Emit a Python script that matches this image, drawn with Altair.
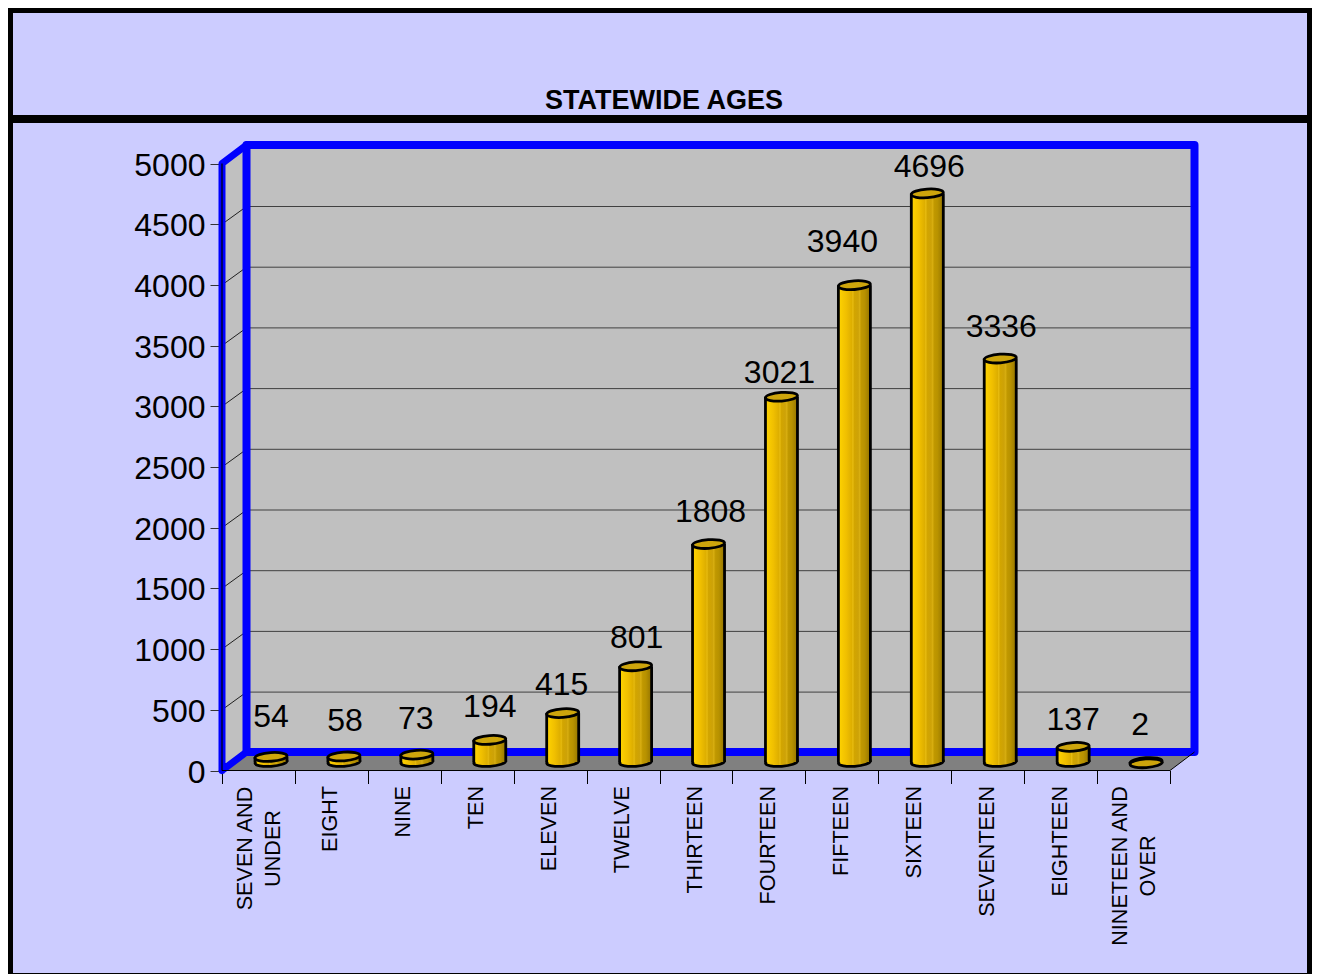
import altair as alt
import pandas as pd

categories = ["SEVEN AND\nUNDER", "EIGHT", "NINE", "TEN", "ELEVEN", "TWELVE", "THIRTEEN",
              "FOURTEEN", "FIFTEEN", "SIXTEEN", "SEVENTEEN", "EIGHTEEN", "NINETEEN AND\nOVER"]
counts = [54, 58, 73, 194, 415, 801, 1808, 3021, 3940, 4696, 3336, 137, 2]
label_shift_x = [0, 1, -1, 0, -1, 1, 2, -2, -12, 2, 1, 0, -6]
label_shift_y = [38, 34, 34, 31, 27, 27, 31, 22, 42, 25, 30, 25, 37]
grid_values = [500, 1000, 1500, 2000, 2500, 3000, 3500, 4000, 4500]
y_ticks = [0, 500, 1000, 1500, 2000, 2500, 3000, 3500, 4000, 4500, 5000]

W, H = 1304, 966
FONT = "Liberation Sans"
BG = "#CCCCFF"
BLUE = "#0000FF"
N = len(categories)
PX_X = 948 / N            # pixels per category
PX_Y = 607 / 5000         # pixels per unit
DX = 24.5 / PX_X          # depth of the 3-D box in data units
DY = 18.5 / PX_Y
GRID_DY = 17.7 / PX_Y
BASE = 8.5 / PX_Y         # cylinders stand in the middle of the floor
TOP_BASE = 7 / PX_Y
CX = 49 / PX_X
HALF = 16 / PX_X

xs = alt.Scale(domain=[0, N], range=[214, 1162], nice=False, zero=False)
ys = alt.Scale(domain=[0, 5000], range=[762.5, 155.5], nice=False, zero=False)
x_axis = alt.Axis(values=list(range(N + 1)), labels=False, domain=False, grid=False, title=None,
                  tickSize=13, tickColor="#000000", tickWidth=1, offset=-203.5)
y_axis = alt.Axis(values=y_ticks, domain=False, grid=False, title=None, tickSize=12, tickColor="#333333",
                  tickWidth=1, labelFont=FONT, labelFontSize=32, labelColor="black",
                  labelPadding=5, labelOffset=1.5, offset=-214, format="d")


def X(f, **k):
    return alt.X(f, type="quantitative", scale=xs, axis=x_axis, **k)


def Y(f, **k):
    return alt.Y(f, type="quantitative", scale=ys, axis=y_axis, **k)


one = pd.DataFrame({"k": [0]})

bars = pd.DataFrame({
    "cat": categories,
    "v": counts,
    "i": list(range(N)),
})
bars["c"] = bars.i + CX
bars["l"] = bars.c - HALF
bars["r"] = bars.c + HALF
bars["base"] = BASE
bars["top"] = bars.v + TOP_BASE
bars["lx"] = bars.c + pd.Series(label_shift_x) / PX_X
bars["ly"] = bars.v + BASE + pd.Series(label_shift_y) / PX_Y
bars["tx"] = bars.i + 0.48 + 1.5 / PX_X
bars["tx2"] = bars.i + 0.48 - 11 / PX_X

# frame of the picture
frame = []
for x0, x1, y0, y1 in [(0, W, 0, 5), (0, 5, 0, H), (1299, W, 0, H), (0, W, 107, 115), (0, W, 965, H)]:
    frame.append(alt.Chart(one).mark_rect(color="black", strokeWidth=0).encode(
        x=alt.value(x0), x2=alt.value(x1), y=alt.value(y0), y2=alt.value(y1)))

title = alt.Chart(one).mark_text(text="STATEWIDE AGES", font=FONT, fontWeight="bold", fontSize=27,
                                 color="black", align="center", baseline="middle").encode(
    x=alt.value(656), y=alt.value(93))

# walls and floor
back = alt.Chart(pd.DataFrame({"a": [DX], "b": [N + DX], "c": [DY], "d": [5000 + DY]})).mark_rect(
    color="#C0C0C0", strokeWidth=0).encode(x=X("a"), x2="b:Q", y=Y("c"), y2="d:Q")
side = alt.Chart(pd.DataFrame({"a": [0, DX], "b": [0, DY], "c": [5000, 5000 + DY]})).mark_area(
    color="#C0C0C0").encode(x=X("a"), y=Y("b"), y2="c:Q")
floor = alt.Chart(pd.DataFrame({"a": [0, DY], "b": [0, DX], "c": [N, N + DX]})).mark_area(
    color="#808080", orient="horizontal").encode(y=Y("a"), x=X("b"), x2="c:Q")

g = pd.DataFrame({"v": grid_values})
g["x0"] = 0.0
g["x1"] = DX
g["x2"] = N + DX
g["y1"] = g.v + GRID_DY
grid_back = alt.Chart(g).mark_rule(color="#404040", strokeWidth=1).encode(
    x=X("x1"), x2="x2:Q", y=Y("y1"))
grid_side = alt.Chart(g).mark_rule(color="#202020", strokeWidth=1).encode(
    x=X("x0"), x2="x1:Q", y=Y("v"), y2="y1:Q")

# blue box edges
box = pd.DataFrame({
    "x": [DX, DX, N + DX, N + DX, DX],
    "y": [DY, 5000 + DY, 5000 + DY, DY, DY],
    "o": [0, 1, 2, 3, 4],
})
blue_back = alt.Chart(box).mark_line(color=BLUE, strokeWidth=8, strokeJoin="round", strokeCap="round").encode(
    x=X("x"), y=Y("y"), order="o:O")
edge = pd.DataFrame({
    "x": [0, 0, DX, DX, 0],
    "y": [0, 5000, 5000 + DY, DY, 0],
    "o": [0, 1, 2, 3, 4],
})
blue_edge = alt.Chart(edge).mark_line(color=BLUE, strokeWidth=7, strokeJoin="round", strokeCap="round").encode(
    x=X("x"), y=Y("y"), order="o:O")

axis_x = alt.Chart(pd.DataFrame({"a": [0], "b": [N], "c": [0]})).mark_rule(color="#000000", strokeWidth=1.2).encode(
    x=X("a"), x2="b:Q", y=Y("c"))
axis_y = alt.Chart(pd.DataFrame({"a": [0], "c": [0], "d": [5000]})).mark_rule(color="#000000", strokeWidth=1.2).encode(
    x=X("a"), y=Y("c"), y2="d:Q")
corner = alt.Chart(pd.DataFrame({"a": [N], "b": [N + DX], "c": [0], "d": [DY]})).mark_rule(
    color="#000000", strokeWidth=1).encode(x=X("a"), x2="b:Q", y=Y("c"), y2="d:Q")

# cylinders
body_fill = alt.LinearGradient(
    gradient="linear", x1=0, x2=1, y1=0, y2=0,
    stops=[
        alt.GradientStop(offset=0.0, color="#FFD400"),
        alt.GradientStop(offset=0.25, color="#F0BF00"),
        alt.GradientStop(offset=0.42, color="#DDAE00"),
        alt.GradientStop(offset=0.45, color="#E8BC10"),
        alt.GradientStop(offset=0.5, color="#D2A500"),
        alt.GradientStop(offset=0.62, color="#CDA208"),
        alt.GradientStop(offset=0.66, color="#D8AE10"),
        alt.GradientStop(offset=0.72, color="#C09800"),
        alt.GradientStop(offset=0.82, color="#B89200"),
        alt.GradientStop(offset=1.0, color="#957500"),
    ],
)
ELLIPSE = "M-1,0.07 A1,0.27 -4 1 1 1,-0.07 A1,0.27 -4 1 1 -1,0.07 Z"
bottom = alt.Chart(bars).mark_point(shape=ELLIPSE, size=1024, filled=True, fill=body_fill, stroke="black",
                                    strokeWidth=2.8, opacity=1, fillOpacity=1).encode(
    x=X("c"), y=Y("base"))
body = alt.Chart(bars).mark_rect(fill=body_fill, strokeWidth=0).encode(x=X("l"), x2="r:Q", y=Y("base"), y2="top:Q")
left_side = alt.Chart(bars).mark_rule(color="black", strokeWidth=2.8).encode(x=X("l"), y=Y("base"), y2="top:Q")
right_side = alt.Chart(bars).mark_rule(color="black", strokeWidth=2.8).encode(x=X("r"), y=Y("base"), y2="top:Q")
top = alt.Chart(bars).mark_point(shape=ELLIPSE, size=1024, filled=True, fill="#CDA50C", stroke="black",
                                 strokeWidth=2.8, opacity=1, fillOpacity=1).encode(
    x=X("c"), y=Y("top"))

labels = alt.Chart(bars).mark_text(font=FONT, fontSize=32, color="black", align="center", baseline="middle").encode(
    x=X("lx"), y=Y("ly"), text=alt.Text("v:Q", format="d"))

# category names: one-line names hang from the axis, two-line names are centred on their longer line
TICK_FONT = 21.6
single = bars[~bars["cat"].str.contains("\n")]
tick_text = [alt.Chart(single).mark_text(font=FONT, fontSize=TICK_FONT, color="black", angle=270, align="right",
                                         baseline="middle").encode(
    x=X("tx"), y=alt.value(778), text="cat:N")]
for name, centre in zip(["SEVEN AND\nUNDER", "NINETEEN AND\nOVER"], [840.5, 858]):
    tick_text.append(
        alt.Chart(bars[bars["cat"] == name]).mark_text(
            font=FONT, fontSize=TICK_FONT, color="black", angle=270, align="center",
            baseline="middle", lineBreak="\n", lineHeight=27.5).encode(
            x=X("tx2"), y=alt.value(centre), text="cat:N"))

chart = alt.layer(
    back, side, floor, grid_back, grid_side, blue_back, blue_edge, axis_x, axis_y, corner,
    bottom, body, left_side, right_side, top, labels, *tick_text, title, *frame,
).properties(
    width=W, height=H, padding=0, background=BG,
    autosize=alt.AutoSizeParams(type="none"),
).configure_view(stroke=None)

chart.save("out.html", embed_options={"renderer": "svg", "actions": False})
